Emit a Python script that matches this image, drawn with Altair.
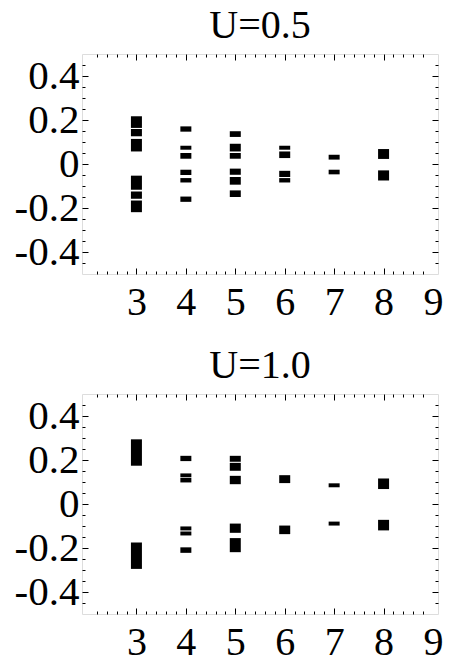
import altair as alt
import pandas as pd

# ---- data (band edges) ----
# U = 0.5
u05_x  = [3, 3, 3, 3, 3, 3,
          4, 4, 4, 4, 4, 4,
          5, 5, 5, 5, 5, 5,
          6, 6, 6, 6,
          7, 7,
          8, 8]
u05_lo = [0.164, 0.126, 0.057, -0.117, -0.158, -0.219,
          0.147, 0.065, 0.024, -0.050, -0.084, -0.172,
          0.123, 0.057, 0.024, -0.049, -0.094, -0.150,
          0.065, 0.027, -0.059, -0.084,
          0.020, -0.047,
          0.023, -0.075]
u05_hi = [0.217, 0.159, 0.114, -0.053, -0.125, -0.166,
          0.171, 0.083, 0.050, -0.026, -0.064, -0.148,
          0.149, 0.092, 0.050, -0.021, -0.059, -0.120,
          0.083, 0.057, -0.031, -0.064,
          0.042, -0.026,
          0.068, -0.029]

# U = 1.0
u10_x  = [3, 3,
          4, 4, 4, 4, 4, 4,
          5, 5, 5, 5, 5,
          6, 6,
          7, 7,
          8, 8]
u10_lo = [0.174, -0.295,
          0.195, 0.122, 0.098, -0.120, -0.143, -0.222,
          0.192, 0.151, 0.090, -0.131, -0.219,
          0.095, -0.137,
          0.076, -0.098,
          0.068, -0.120]
u10_hi = [0.294, -0.175,
          0.219, 0.139, 0.119, -0.102, -0.125, -0.197,
          0.219, 0.187, 0.128, -0.089, -0.155,
          0.131, -0.098,
          0.094, -0.080,
          0.116, -0.072]

x_labels = [3, 4, 5, 6, 7, 8, 9]
y_labels = [-0.4, -0.2, 0, 0.2, 0.4]

W, H = 356, 220
FONT = "Liberation Serif"

x_minor = [round(2 + 0.2 * i, 2) for i in range(1, 35)]
y_minor = [round(-0.45 + 0.05 * i, 2) for i in range(0, 19)]

xs = alt.Scale(domain=[2, 9], nice=False, zero=False)
ys = alt.Scale(domain=[-0.5, 0.5], nice=False, zero=False)

x_major_test = "abs(datum.value - round(datum.value)) < 0.001"
y_major_test = "abs(datum.value * 5 - round(datum.value * 5)) < 0.001"

def tick_axis(orient, offset, values, test):
    return alt.Axis(orient=orient, offset=offset, values=values, labels=False,
                    domain=False, grid=False, title=None, tickColor="black",
                    tickWidth=1,
                    tickSize={"condition": {"test": test, "value": 6}, "value": 3})


def panel(xv, lo, hi, title):
    df = pd.DataFrame({"x": xv, "lo": lo, "hi": hi})
    base = alt.Chart(df)
    bars = base.mark_bar(width=11, color="black").encode(
        x=alt.X("x:Q", scale=xs, axis=alt.Axis(
            orient="bottom", values=x_labels, ticks=False, domain=False, grid=False,
            title=None, labelFont=FONT, labelFontSize=40, labelColor="black",
            labelPadding=8, labelFlush=False, labelOverlap=False)),
        y=alt.Y("lo:Q", scale=ys, axis=alt.Axis(
            orient="left", values=y_labels, ticks=False, domain=False, grid=False,
            title=None, labelFont=FONT, labelFontSize=41, labelColor="black",
            labelPadding=3, labelFlush=False, labelOverlap=False,
            labelExpr="datum.value == 0 ? '0' : (datum.value < 0 ? '-' + format(-datum.value, '.1f') : format(datum.value, '.1f'))")),
        y2="hi:Q",
    )
    ticks_a = base.mark_bar(width=11, opacity=0).encode(
        x=alt.X("x:Q", scale=xs, axis=tick_axis("top", -H, x_minor, x_major_test)),
        y=alt.Y("lo:Q", scale=ys, axis=tick_axis("right", -W, y_minor, y_major_test)),
        y2="hi:Q",
    )
    ticks_b = base.mark_bar(width=11, opacity=0).encode(
        x=alt.X("x:Q", scale=xs, axis=tick_axis("bottom", -H, x_minor, x_major_test)),
        y=alt.Y("lo:Q", scale=ys, axis=tick_axis("left", -W, y_minor, y_major_test)),
        y2="hi:Q",
    )
    return alt.layer(bars, ticks_a, ticks_b).resolve_axis(
        x="independent", y="independent"
    ).properties(
        width=W, height=H,
        title=alt.Title(title, font=FONT, fontSize=40, fontWeight="normal",
                        color="black", offset=8),
    )


chart = alt.vconcat(
    panel(u05_x, u05_lo, u05_hi, "U=0.5"),
    panel(u10_x, u10_lo, u10_hi, "U=1.0"),
    spacing=120, bounds="flush",
).properties(
    padding={"left": 13, "top": 5, "right": 2, "bottom": 0}
).configure_view(
    stroke="black", strokeWidth=1.5
).configure(background="white")

chart.save("out.html", embed_options={"renderer": "svg", "actions": False})
